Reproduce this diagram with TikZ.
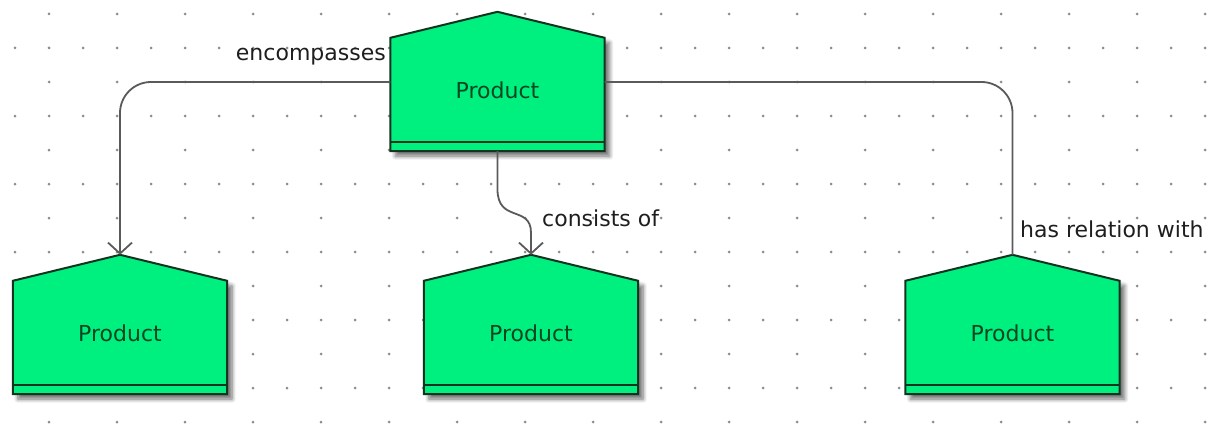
\documentclass[tikz,border=0pt]{standalone}
\usepackage{fontspec}
\setmainfont{DejaVu Sans}
\usetikzlibrary{calc,arrows.meta,shadows.blur}

\definecolor{prodfill}{RGB}{0,240,128}
\definecolor{prodline}{RGB}{20,50,32}
\definecolor{prodtext}{RGB}{8,70,34}
\definecolor{connline}{RGB}{90,90,90}
\definecolor{labeltext}{RGB}{30,30,30}
\definecolor{griddot}{RGB}{140,140,140}

\tikzset{
  prodbody/.style={rectangle, minimum width=214pt, minimum height=104pt, inner sep=0pt,
    text=prodtext, font=\fontsize{22pt}{26pt}\selectfont},
  prodframe/.style={draw=prodline, line width=2pt, fill=prodfill, line join=miter},
  prodshadow/.style={blur shadow={shadow xshift=5pt, shadow yshift=-5pt,
    shadow blur radius=4pt, shadow blur steps=8, shadow opacity=55}},
  conn/.style={draw=connline, line width=1.8pt, rounded corners=31pt},
  openhead/.style={-{Straight Barb[length=11pt,width=24pt,line width=1.8pt]}},
  edgelabel/.style={text=labeltext, inner sep=0pt, font=\fontsize{22pt}{26pt}\selectfont},
}

% pentagon "product" outline around a body node: roof above, double base line below
\newcommand\productshape[1]{%
  \path[prodshadow, prodframe]
    (#1.north west) -- ($(#1.north)+(0,-26)$) -- (#1.north east)
    -- ($(#1.south east)+(0,9)$) -- ($(#1.south west)+(0,9)$) -- cycle;
  \draw[draw=prodline, line width=2pt] (#1.south west) -- (#1.south east);
}

\begin{document}
\begin{tikzpicture}[x=1pt, y=-1pt]
  \useasboundingbox (0,0) rectangle (1216,428);

  % dotted background grid
  \foreach \j in {0,...,12} {
    \foreach \i in {0,...,35} {
      \pgfmathtruncatemacro\show{(mod(\j,2)==1) || (mod(\i,2)==1)}
      \ifnum\show=1
        \fill[griddot] (15+34*\i, 14+34*\j) circle (1.5pt);
      \fi
    }
  }

  % product bodies
  \node[prodbody] (T) at (497.5, 90) {Product};
  \node[prodbody] (L) at (120, 333) {Product};
  \node[prodbody] (M) at (531, 333) {Product};
  \node[prodbody] (R) at (1012.5, 333) {Product};

  \productshape{T}
  \productshape{L}
  \productshape{M}
  \productshape{R}

  \node[prodbody] at (T) {Product};
  \node[prodbody] at (L) {Product};
  \node[prodbody] at (M) {Product};
  \node[prodbody] at (R) {Product};

  % connector end points
  \coordinate (Tleft)  at ($(T.west)+(0,-8)$);
  \coordinate (Tright) at ($(T.east)+(0,-8)$);
  \coordinate (Tbase)  at ($(T.south)+(0,9)$);
  \coordinate (Lroof)  at ($(L.north)+(0,-26)$);
  \coordinate (Mroof)  at ($(M.north)+(0,-26)$);
  \coordinate (Rroof)  at ($(R.north)+(0,-26)$);

  % connectors
  \draw[conn, openhead] (Tleft) -| (Lroof);
  \draw[conn] (Tright) -| (Rroof);
  \draw[draw=connline, line width=1.8pt, openhead]
    (Tbase) -- ($(Tbase)+(0,38)$)
    .. controls ($(Tbase)+(0,72)$) and ($(Mroof)+(0,-50)$) .. ($(Mroof)+(0,-22)$)
    -- (Mroof);

  % connector labels
  \node[edgelabel, anchor=east] (lenc) at (386,57) {encompasses};
  \node[edgelabel, anchor=west] (lcons) at (542,218) {consists of};
  \node[edgelabel, anchor=west] (lrel) at (1020,229) {has relation with};
\end{tikzpicture}
\end{document}
